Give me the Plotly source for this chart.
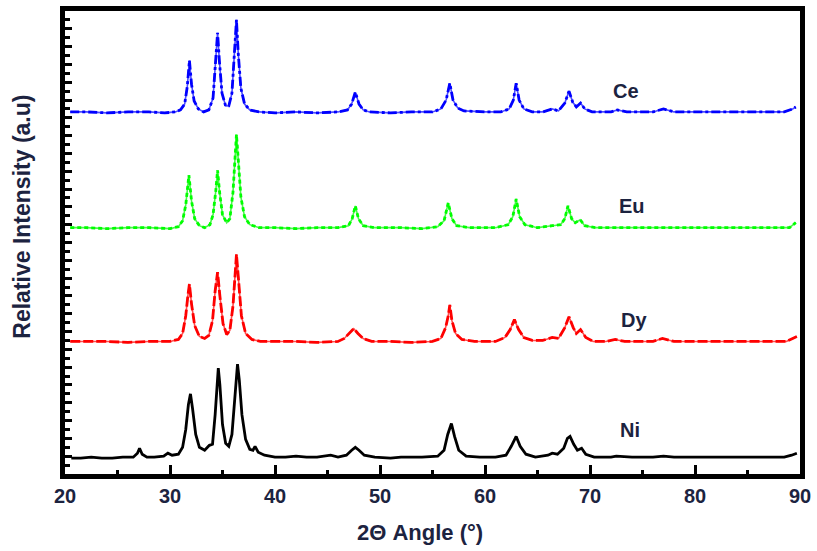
import plotly.graph_objects as go

# ---- data (2theta in degrees, intensity in arbitrary units) ----
ce_x = [20.5,22,24,26,28,29.5,30.5,31.0,31.4,31.65,31.85,32.05,32.3,32.7,33.2,33.7,34.1,34.35,34.53,34.7,34.95,35.3,35.6,35.9,36.15,36.33,36.5,36.75,37.1,37.6,38.5,40,42,44,46,46.9,47.3,47.65,48.0,48.4,49,51,53,55,55.8,56.3,56.65,56.95,57.4,58,60,61.5,62.3,62.7,62.97,63.25,63.7,64.5,65.5,66.4,67.0,67.6,68.0,68.35,68.7,69.1,69.5,70.2,72,72.6,73.5,76,77.0,78,82,86,88.5,89.3,89.6]
ce_y = [366,366,365,366,366,365,366,368,374,392,418,394,377,369,366,368,380,415,446,418,385,372,372,385,425,459,425,390,374,368,366,365,366,365,366,368,374,386,374,368,366,365,366,366,369,378,395,378,370,367,366,366,369,378,395,378,369,366,366,369,367,375,387,376,371,375,369,366,366,368,366,366,369,366,366,366,366,369,371]

eu_x = [20.5,22,24,26,28,30,30.8,31.2,31.5,31.8,32.05,32.35,32.8,33.3,33.8,34.1,34.35,34.53,34.72,35.0,35.4,35.7,36.0,36.2,36.33,36.5,36.75,37.1,37.6,38.5,40,42,44,46,47.0,47.35,47.65,47.95,48.4,49.5,52,54,55.5,56.1,56.5,56.85,57.3,58.5,61,62.2,62.65,62.97,63.3,63.8,65,66.4,67.2,67.6,67.9,68.25,68.6,69.06,69.5,70.5,73,76,79,83,87,89,89.6]
eu_y = [249,249,248,249,249,248,250,256,272,302,276,258,251,249,252,262,285,307,285,262,254,258,285,325,343,318,280,260,252,249,249,248,249,249,251,258,271,258,251,249,249,248,250,256,274,258,251,249,249,252,260,278,260,252,249,251,252,258,271,258,254,257,251,249,249,249,249,249,249,249,254]

dy_x = [20.5,22,24,26,28,30,30.8,31.2,31.5,31.7,31.85,32.05,32.35,32.8,33.3,33.7,34.05,34.3,34.53,34.75,35.05,35.4,35.7,36.0,36.2,36.33,36.5,36.8,37.2,37.8,38.6,40,42,44,46,46.6,47.1,47.5,47.9,48.4,49.2,51,53,55,55.8,56.25,56.5,56.65,56.85,57.2,57.8,59,61,61.9,62.4,62.8,63.2,63.7,64.5,65.5,66.4,67.0,67.6,68.0,68.4,68.7,69.1,69.6,70.3,71.5,72.4,73.3,76,76.9,78,82,86,88.7,89.3,89.7]
dy_y = [134,134,134,133,134,134,136,142,160,180,192,172,150,139,137,140,155,185,204,180,152,141,145,170,205,222,200,160,142,136,134,134,134,133,134,137,143,147,142,137,134,134,133,134,137,148,160,171,155,142,136,134,134,138,146,156,146,138,135,135,138,137,148,159,148,142,146,138,134,134,136,134,134,137,134,134,134,134,137,139]

ni_x = [20.6,21.5,22.5,23.5,24.5,25.5,26.5,26.9,27.1,27.35,27.8,28.5,29.4,29.8,30.2,30.8,31.2,31.5,31.75,31.95,32.15,32.45,32.8,33.3,33.75,34.05,34.3,34.48,34.6,34.75,35.0,35.3,35.6,35.9,36.15,36.3,36.43,36.6,36.85,37.2,37.6,37.9,38.1,38.4,39,40,41,42,43,44,45.3,46,46.8,47.3,47.65,48.0,48.5,49.5,51,52,54,55.5,56.1,56.45,56.8,57.1,57.5,58.2,59.5,61,62.0,62.5,62.97,63.35,63.9,64.8,66.0,66.4,66.9,67.5,67.85,68.1,68.45,68.8,69.2,69.6,70.4,72,72.5,74,76,77,78,82,86,88.5,89.2,89.7]
ni_y = [16,16,17,16,16,17,17,21,26,20,17,17,18,21,19,20,27,45,70,81,66,40,27,24,29,30,60,95,107,90,50,31,28,40,75,102,111,95,60,35,25,24,28,22,19,17,17,18,17,17,19,17,19,24,27,24,19,17,16,17,17,18,24,40,51,38,24,18,17,17,19,28,38,28,20,17,19,21,20,26,36,38,30,24,26,20,17,17,18,17,17,18,17,17,17,17,19,21]

labels = ["Ce", "Eu", "Dy", "Ni"]
label_x = [73.4, 74.0, 74.2, 73.8]
label_y = [387, 271, 156, 44]

x_ticks = [20, 30, 40, 50, 60, 70, 80, 90]

series = [
    (ce_x, ce_y, "#0000ff", "rgba(0,0,255,0.7)", "9px,3px,3px,3px"),
    (eu_x, eu_y, "#00ff00", "rgba(0,240,0,0.7)", "4px,3px"),
    (dy_x, dy_y, "#ff0000", "rgba(255,0,0,0.7)", "10px,3px"),
    (ni_x, ni_y, "#000000", "#000000", "solid"),
]

fig = go.Figure()
for xs, ys, col, light, dash in series:
    if dash != "solid":
        fig.add_trace(go.Scatter(x=xs, y=ys, mode="lines",
                                 line=dict(color=light, width=1.6),
                                 hoverinfo="skip", showlegend=False))
    fig.add_trace(go.Scatter(x=xs, y=ys, mode="lines",
                             line=dict(color=col, width=2.8, dash=dash),
                             showlegend=False))

font_fam = "Liberation Sans, Arial, sans-serif"
txt_col = "#1c2340"

for t, lx, ly in zip(labels, label_x, label_y):
    fig.add_annotation(x=lx, y=ly, xref="x", yref="y", text=t, showarrow=False,
                       font=dict(family=font_fam, size=20, color=txt_col, weight="bold"))

fig.add_annotation(x=0.4834, y=-0.126, xref="paper", yref="paper",
                   text="2\u0398 Angle (\u00b0)", showarrow=False,
                   xanchor="center", yanchor="middle",
                   font=dict(family=font_fam, size=22, color=txt_col, weight="bold"))
fig.add_annotation(x=-0.059, y=0.555, xref="paper", yref="paper",
                   text="Relative Intensity (a.u)", showarrow=False, textangle=-90,
                   xanchor="center", yanchor="middle",
                   font=dict(family=font_fam, size=23, color=txt_col, weight="bold"))

fig.update_layout(
    width=817, height=551,
    margin=dict(l=65, r=13, t=6, b=77),
    paper_bgcolor="white", plot_bgcolor="white",
    showlegend=False,
)
fig.update_xaxes(range=[20, 90], tickvals=x_ticks, ticks="inside", ticklen=9, tickwidth=3,
                 tickcolor="black", showline=True, linewidth=4.5, linecolor="black", mirror=True,
                 showgrid=False, zeroline=False,
                 minor=dict(dtick=5, tick0=20, ticks="inside", ticklen=4, tickwidth=3, tickcolor="black"),
                 tickfont=dict(family=font_fam, size=20, color=txt_col, weight="bold"))
fig.update_yaxes(range=[0, 468], dtick=18, tick0=0, ticks="inside", ticklen=7, tickwidth=3,
                 tickcolor="black", showticklabels=False,
                 showline=True, linewidth=4.5, linecolor="black", mirror=True,
                 showgrid=False, zeroline=False,
                 minor=dict(dtick=9, ticks="inside", ticklen=5, tickwidth=3, tickcolor="black"))

fig.write_html("out.html")
